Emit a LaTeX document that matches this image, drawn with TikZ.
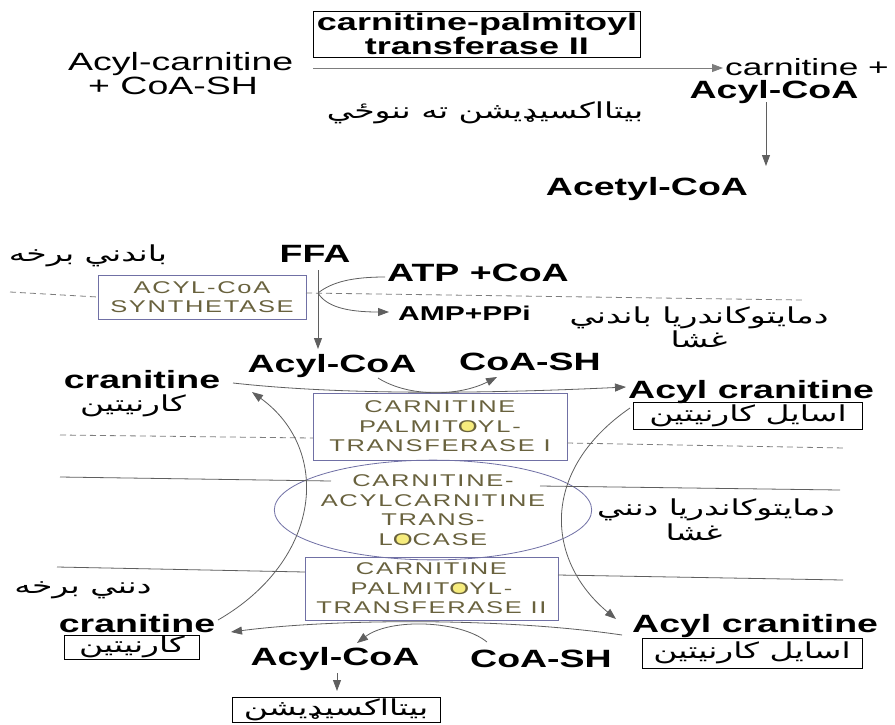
\documentclass[tikz,border=0pt]{standalone}
\usepackage{fontspec}
\usetikzlibrary{arrows.meta,shapes.geometric}
\setmainfont{Liberation Sans}[FakeStretch=1.5]
\newfontfamily\enzfont{Liberation Sans}[FakeStretch=1.5,LetterSpace=10]
\newfontfamily\arfont[Script=Arabic,FakeStretch=1.5]{DejaVu Sans}
\TeXXeTstate=1

\definecolor{linegray}{RGB}{95,95,95}
\definecolor{dashgray}{RGB}{125,125,125}
\definecolor{enztext}{RGB}{105,98,62}
\definecolor{enzedge}{RGB}{112,112,165}
\definecolor{oyel}{RGB}{246,236,125}

% letter O with a yellow disc behind it
\newcommand\yelO{\tikz[baseline=0pt]{\fill[oyel] (0.585em,0.36em) ellipse [x radius=0.5em, y radius=0.33em];\node[shape=rectangle,draw=none,fill=none,inner sep=0pt,outer sep=0pt,minimum width=0pt,minimum height=0pt,anchor=base west,text=enztext] at (0pt,0pt) {O};}}

\begin{document}
\begin{tikzpicture}[x=1pt,y=-1pt,
  lbl/.style={font=\bfseries\fontsize{25}{27}\selectfont,inner sep=0pt},
  reg/.style={font=\fontsize{25}{27}\selectfont,inner sep=0pt},
  small/.style={font=\bfseries\fontsize{20}{22}\selectfont,inner sep=0pt},
  ar/.style={font=\arfont\fontsize{22}{24}\selectfont,inner sep=0pt},
  arbox/.style={draw=black,line width=0.8pt,font=\arfont\fontsize{22}{24}\selectfont,inner sep=0pt},
  enz/.style={draw=enzedge,line width=0.8pt,text=enztext,align=center,
    font=\enzfont\fontsize{17}{19.5}\selectfont,inner sep=0pt},
  conn/.style={draw=linegray,line width=0.8pt},
  arr/.style={conn,-{Triangle[length=11pt,width=8pt]}},
  membd/.style={draw=dashgray,line width=0.8pt,dash pattern=on 6pt off 4pt},
  membs/.style={draw=linegray,line width=0.8pt}]
\useasboundingbox (0,0) rectangle (895,724);
\fill[white] (0,0) rectangle (895,724);

% ---------- summary reaction ----------
\node[draw=black,line width=0.8pt,minimum width=327pt,minimum height=46pt,inner sep=0pt,
  align=center,font=\bfseries\fontsize{24}{24}\selectfont] (cpt) at (477,34)
  {carnitine-palmitoyl\\transferase II};
\node[reg,anchor=base west] (acar) at (68,70) {Acyl-carnitine};
\node[reg,anchor=base west] (coash0) at (88,94) {+ CoA-SH};
\node[reg,font=\fontsize{23.5}{25}\selectfont,anchor=base west] (carn0) at (725,75) {carnitine +};
\node[lbl,anchor=base] (acoa0) at (774,98) {Acyl-CoA};
\node[lbl,anchor=base] (acet) at (647,195) {Acetyl-CoA};
\node[ar] (beta0) at (485,113) {\beginR بيتااکسيډيشن ته ننوځي\endR};
\coordinate (r0) at (313,68);
\coordinate (r1) at (723,68);
\draw[arr,draw=dashgray] (r0) -- (r1);
\coordinate (d0) at (766,102);
\coordinate (d1) at (766,166);
\draw[arr] (d0) -- (d1);

% ---------- membranes ----------
\node[enz,minimum width=208pt,minimum height=44pt] (acs) at (202,297)
  {ACYL-CoA\\SYNTHETASE};
\coordinate (m1a) at (10,292);
\coordinate (m1b) at (306,293);
\coordinate (m1c) at (802,300);
\draw[membd] (m1a) -- (acs.west);
\draw[membd] (m1b) -- (m1c);

\node[enz,minimum width=254pt,minimum height=67pt] (cpt1) at (440,426.5)
  {CARNITINE\\PALMIT\yelO YL-\\TRANSFERASE I};
\node[enz,ellipse,minimum width=257pt,minimum height=85pt] (tl) at (433,510)
  {CARNITINE-\\ACYLCARNITINE\\TRANS-\\L\yelO CASE};
\node[enz,minimum width=253pt,minimum height=63pt] (cpt2) at (431.5,588.5)
  {CARNITINE\\PALMIT\yelO YL-\\TRANSFERASE II};

\coordinate (m2a) at (60,435);
\coordinate (m2b) at (313,438);
\coordinate (m2c) at (567,443);
\coordinate (m2d) at (845,448);
\draw[membd] (m2a) -- (m2b);
\draw[membd] (m2c) -- (m2d);
\coordinate (m3a) at (60,477);
\coordinate (m3b) at (331,481);
\coordinate (m3c) at (540,486);
\coordinate (m3d) at (840,490);
\draw[membs] (m3a) -- (m3b);
\draw[membs] (m3c) -- (m3d);
\coordinate (m4a) at (57,567);
\coordinate (m4b) at (305,572);
\coordinate (m4c) at (558,575);
\coordinate (m4d) at (843,580);
\draw[membs] (m4a) -- (m4b);
\draw[membs] (m4c) -- (m4d);

% ---------- outer side ----------
\node[ar] (outer) at (88,256) {\beginR باندني برخه\endR};
\node[lbl,anchor=base] (ffa) at (315,262) {FFA};
\node[lbl,anchor=base west] (atp) at (387,281) {ATP +CoA};
\node[small,anchor=base west] (amp) at (398,320) {AMP+PPi};
\node[ar] (omem1) at (699,318) {\beginR دمايتوکاندريا باندني\endR};
\node[ar] (omem2) at (699,339) {\beginR غشا\endR};
\node[lbl,anchor=base] (acoa1) at (332,372) {Acyl-CoA};
\node[lbl,anchor=base] (coash1) at (530,370) {CoA-SH};
\node[lbl,anchor=base] (crn1) at (142,388) {cranitine};
\node[ar] (crn1ar) at (133,406) {\beginR کارنيتين\endR};
\node[lbl,anchor=base west] (acrn1) at (628,398) {Acyl cranitine};
\node[arbox,minimum width=229pt,minimum height=27pt] (acrn1ar) at (748,416)
  {\beginR اسايل کارنيتين\endR};

\coordinate (f0) at (318,270);
\coordinate (f1) at (318,349);
\coordinate (fj) at (318,293);
\coordinate (atpin) at (385,277);
\coordinate (ampout) at (389,312);
\draw[arr] (f0) -- (f1);
\draw[conn] (fj) .. controls (332,282) and (352,277) .. (atpin);
\draw[arr] (fj) .. controls (326,306) and (345,312) .. (ampout);

\coordinate (c1s) at (233,383);
\coordinate (c1e) at (626,387);
\draw[arr] (c1s) .. controls (350,396) and (500,393) .. (c1e);
\coordinate (a1s) at (378,378);
\coordinate (a1e) at (497,377);
\draw[arr] (a1s) .. controls (410,398) and (460,396) .. (a1e);

% ---------- transport cycle ----------
\coordinate (rs) at (630,408);
\coordinate (re) at (616,619);
\draw[arr] (rs) .. controls (540,470) and (545,560) .. (re);
\coordinate (ls) at (218,620);
\coordinate (le) at (252,392);
\draw[arr] (ls) .. controls (322,560) and (332,450) .. (le);

% ---------- inner side ----------
\node[ar] (innerm1) at (716,510) {\beginR دمايتوکاندريا دنني\endR};
\node[ar] (innerm2) at (694,532) {\beginR غشا\endR};
\node[ar] (inner) at (83,590) {\beginR دنني برخه\endR};
\node[lbl,anchor=base] (crn2) at (137,632) {cranitine};
\node[arbox,minimum width=135pt,minimum height=24pt] (crn2ar) at (132,647)
  {\beginR کارنيتين\endR};
\node[lbl,anchor=base west] (acrn2) at (632,632) {Acyl cranitine};
\node[arbox,minimum width=220pt,minimum height=30pt] (acrn2ar) at (752,653)
  {\beginR اسايل کارنيتين\endR};
\node[lbl,anchor=base] (acoa2) at (335,665) {Acyl-CoA};
\node[lbl,anchor=base] (coash2) at (541,667) {CoA-SH};
\node[arbox,minimum width=208pt,minimum height=25pt] (beta) at (336,709.5)
  {\beginR بيتااکسيډيشن\endR};

\coordinate (b1s) at (622,635);
\coordinate (b1e) at (231,632);
\draw[arr] (b1s) .. controls (500,617) and (330,619) .. (b1e);
\coordinate (b2s) at (487,642);
\coordinate (b2e) at (357,643);
\draw[arr] (b2s) .. controls (460,620) and (390,618) .. (b2e);
\coordinate (dd0) at (337,673);
\coordinate (dd1) at (337,691);
\draw[arr] (dd0) -- (dd1);
\end{tikzpicture}
\end{document}
